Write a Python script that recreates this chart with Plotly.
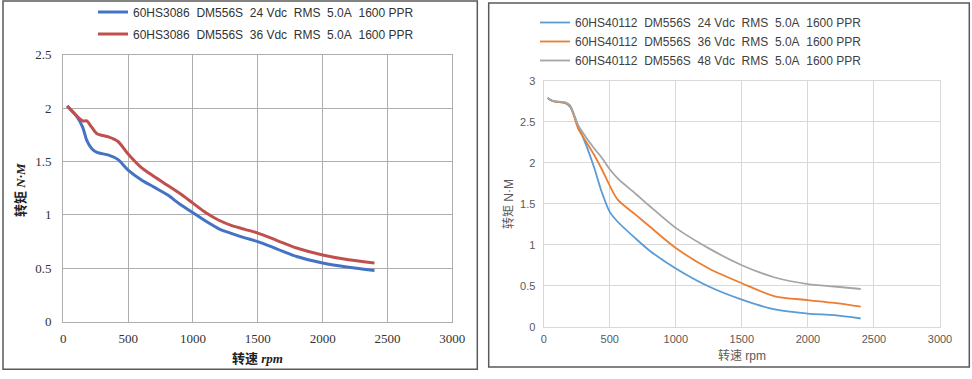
import plotly.graph_objects as go

# ---------------- data ----------------
left_rpm = [30, 100, 150, 180, 220, 260, 350, 420, 500, 600, 700, 800, 900, 1000,
            1100, 1200, 1300, 1400, 1500, 1650, 1800, 2000, 2200, 2400]
left_24v = [2.02, 1.93, 1.82, 1.70, 1.62, 1.585, 1.56, 1.52, 1.42, 1.33, 1.26, 1.19, 1.10,
            1.02, 0.94, 0.87, 0.825, 0.785, 0.75, 0.68, 0.61, 0.55, 0.51, 0.48]
left_36v = [2.02, 1.93, 1.88, 1.88, 1.82, 1.76, 1.73, 1.69, 1.57, 1.445, 1.36, 1.28, 1.20,
            1.11, 1.02, 0.95, 0.90, 0.865, 0.83, 0.76, 0.69, 0.625, 0.58, 0.55]

right_rpm = [30, 70, 160, 200, 260, 320, 380, 440, 500, 560, 700, 800, 1000, 1250,
             1500, 1750, 2000, 2200, 2400]
right_24v = [2.79, 2.75, 2.73, 2.68, 2.45, 2.22, 1.95, 1.64, 1.40, 1.28, 1.07, 0.93, 0.71,
             0.49, 0.33, 0.21, 0.16, 0.14, 0.10]
right_36v = [2.79, 2.75, 2.73, 2.69, 2.42, 2.26, 2.10, 1.92, 1.72, 1.55, 1.36, 1.225, 0.96,
             0.71, 0.53, 0.37, 0.325, 0.29, 0.245]
right_48v = [2.79, 2.75, 2.74, 2.70, 2.46, 2.31, 2.18, 2.06, 1.92, 1.81, 1.615, 1.475, 1.205,
             0.955, 0.75, 0.60, 0.52, 0.49, 0.46]

left_names = ["60HS3086  DM556S  24 Vdc  RMS  5.0A  1600 PPR",
              "60HS3086  DM556S  36 Vdc  RMS  5.0A  1600 PPR"]
right_names = ["60HS40112  DM556S  24 Vdc  RMS  5.0A  1600 PPR",
               "60HS40112  DM556S  36 Vdc  RMS  5.0A  1600 PPR",
               "60HS40112  DM556S  48 Vdc  RMS  5.0A  1600 PPR"]

x_ticks = [0, 500, 1000, 1500, 2000, 2500, 3000]
left_y_ticks = [0, 0.5, 1, 1.5, 2, 2.5]
left_y_labels = ["0", "0.5", "1", "1.5", "2", "2.5"]
right_y_ticks = [0, 0.5, 1, 1.5, 2, 2.5, 3]
right_y_labels = ["0", "0.5", "1", "1.5", "2", "2.5", "3"]


def nb(s):
    return s.replace(" ", "\u00a0")


W, H = 972, 379


def px_x(p):
    return p / W


def px_y(p):
    return 1 - p / H


fig = go.Figure()

left_colors = ["#4472C4", "#C0504D"]
for i, (ys, c) in enumerate(zip([left_24v, left_36v], left_colors)):
    fig.add_trace(go.Scatter(x=left_rpm, y=ys, mode="lines", name=nb(left_names[i]),
                             line=dict(color=c, width=3, shape="spline", smoothing=0.8),
                             xaxis="x", yaxis="y", legend="legend",
                             legendgroup="l%d" % i, hoverinfo="skip"))

right_colors = ["#5B9BD5", "#ED7D31", "#A5A5A5"]
for i, (ys, c) in enumerate(zip([right_24v, right_36v, right_48v], right_colors)):
    fig.add_trace(go.Scatter(x=right_rpm, y=ys, mode="lines", name=nb(right_names[i]),
                             line=dict(color=c, width=1.8, shape="spline", smoothing=0.8),
                             xaxis="x2", yaxis="y2", legend="legend2",
                             legendgroup="r%d" % i, hoverinfo="skip"))

serif = "Liberation Serif, Noto Sans CJK SC"
sans = "Liberation Sans, Arial, Noto Sans CJK SC"
lgrid = "#ADADAD"
rgrid = "#D9D9D9"

fig.update_layout(
    width=W, height=H, autosize=False,
    margin=dict(l=0, r=0, t=0, b=0, pad=0, autoexpand=False),
    paper_bgcolor="white", plot_bgcolor="white",
    xaxis=dict(domain=[px_x(63.3), px_x(452.3)], anchor="y", range=[0, 3000], automargin=False,
               tickvals=x_ticks, ticktext=[str(v) for v in x_ticks],
               showgrid=True, gridcolor=lgrid, gridwidth=1.2, zeroline=False,
               showline=True, linecolor=lgrid, linewidth=1.2, mirror=True,
               ticks="outside", ticklen=5, tickcolor="rgba(0,0,0,0)",
               tickfont=dict(family=serif, size=13, color="#333333")),
    yaxis=dict(domain=[px_y(321.7), px_y(54.7)], anchor="x", range=[0, 2.5], automargin=False,
               tickvals=left_y_ticks, ticktext=left_y_labels,
               showgrid=True, gridcolor=lgrid, gridwidth=1.2, zeroline=False,
               showline=True, linecolor=lgrid, linewidth=1.2, mirror=True,
               ticks="outside", ticklen=8, tickcolor="rgba(0,0,0,0)",
               tickfont=dict(family=serif, size=13, color="#333333")),
    xaxis2=dict(domain=[px_x(543.7), px_x(940)], anchor="y2", range=[0, 3000], automargin=False,
                tickvals=x_ticks, ticktext=[str(v) for v in x_ticks],
                showgrid=True, gridcolor=rgrid, gridwidth=1.2, zeroline=False,
                showline=True, linecolor=rgrid, linewidth=1.2, mirror=True,
                ticks="outside", ticklen=2, tickcolor="rgba(0,0,0,0)",
                tickfont=dict(family=sans, size=11, color="#595959")),
    yaxis2=dict(domain=[px_y(326.7), px_y(80.7)], anchor="x2", range=[0, 3], automargin=False,
                tickvals=right_y_ticks, ticktext=right_y_labels,
                showgrid=True, gridcolor=rgrid, gridwidth=1.2, zeroline=False,
                showline=True, linecolor=rgrid, linewidth=1.2, mirror=True,
                ticks="outside", ticklen=5, tickcolor="rgba(0,0,0,0)",
                tickfont=dict(family=sans, size=11, color="#595959")),
    legend=dict(x=px_x(93), y=px_y(-2.5), xanchor="left", yanchor="top",
                bgcolor="rgba(0,0,0,0)", tracegroupgap=3,
                font=dict(family=sans, size=12, color="#333333")),
    legend2=dict(x=px_x(535), y=px_y(8), xanchor="left", yanchor="top",
                 bgcolor="rgba(0,0,0,0)", tracegroupgap=0,
                 font=dict(family=sans, size=12, color="#404040")),
    showlegend=True,
)

# panel frames
fig.add_shape(type="rect", xref="paper", yref="paper",
              x0=px_x(3), x1=px_x(477.3), y0=px_y(369.3), y1=px_y(1),
              line=dict(color="#5A5A5A", width=1.5), fillcolor="rgba(0,0,0,0)", layer="below")
fig.add_shape(type="rect", xref="paper", yref="paper",
              x0=px_x(488.7), x1=px_x(969.3), y0=px_y(367), y1=px_y(3),
              line=dict(color="#5A5A5A", width=1.5), fillcolor="rgba(0,0,0,0)", layer="below")

# axis titles
fig.add_annotation(x=px_x(257.7), y=px_y(358), xref="paper", yref="paper",
                   xanchor="center", yanchor="middle",
                   text="<b>转速 <i>rpm</i></b>", showarrow=False,
                   font=dict(family=serif, size=13, color="#222222"))
fig.add_annotation(x=px_x(20), y=px_y(190), xref="paper", yref="paper",
                   xanchor="center", yanchor="middle",
                   text="<b>转矩 <i>N·M</i></b>", showarrow=False, textangle=-90,
                   font=dict(family=serif, size=13, color="#222222"))
fig.add_annotation(x=px_x(742), y=px_y(355), xref="paper", yref="paper",
                   xanchor="center", yanchor="middle",
                   text="转速 rpm", showarrow=False,
                   font=dict(family=sans, size=12, color="#595959"))
fig.add_annotation(x=px_x(508), y=px_y(204), xref="paper", yref="paper",
                   xanchor="center", yanchor="middle",
                   text="转矩 N·M", showarrow=False, textangle=-90,
                   font=dict(family=sans, size=12, color="#595959"))

fig.write_html(
    "out.html",
    config={"displayModeBar": False, "responsive": False},
    post_script=("document.documentElement.style.margin='0';"
                 "document.body.style.margin='0';"
                 "document.body.style.padding='0';"
                 "document.documentElement.style.overflow='hidden';"
                 "document.body.style.overflow='hidden';"),
)
